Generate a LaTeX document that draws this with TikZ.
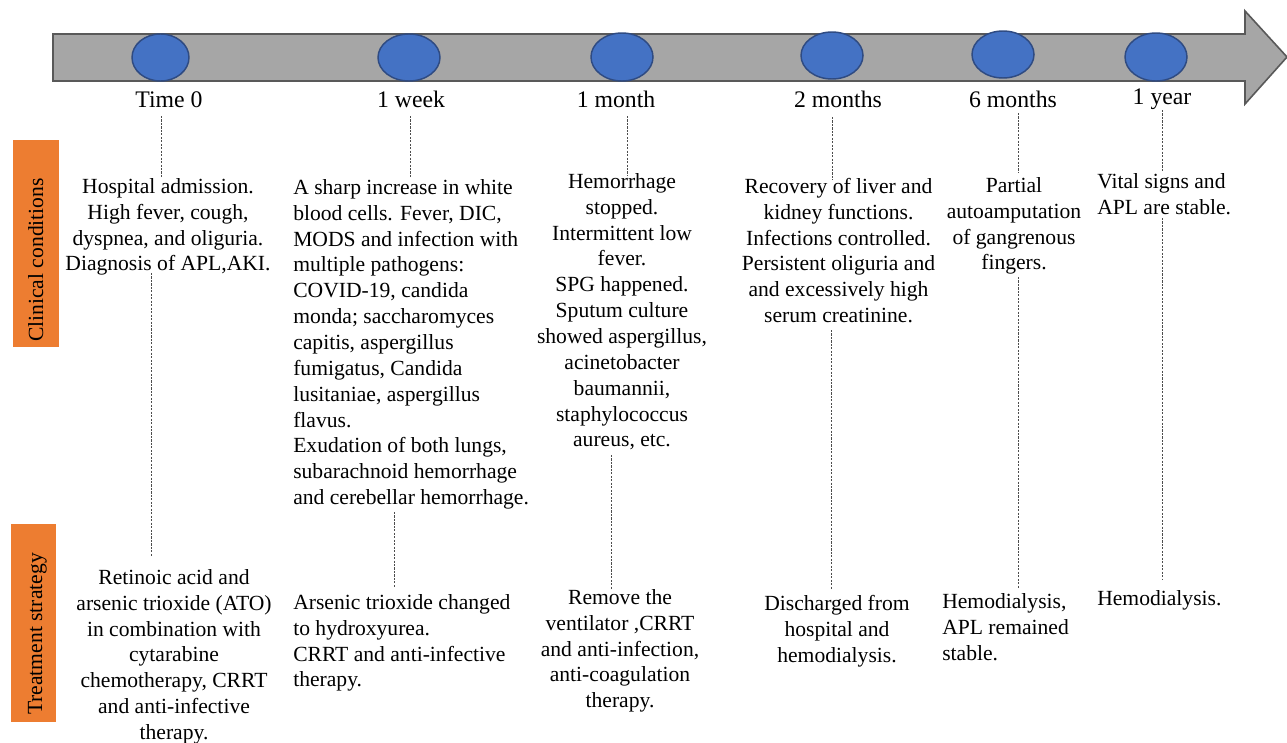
\documentclass[tikz,border=0pt]{standalone}
\usepackage{fontspec}
\usetikzlibrary{shapes.geometric}
\setmainfont{Liberation Serif}
\definecolor{bargray}{HTML}{A6A6A6}
\definecolor{bardraw}{HTML}{595959}
\definecolor{dotblue}{HTML}{4472C4}
\definecolor{dotdraw}{HTML}{2F4B82}
\definecolor{sideorange}{HTML}{ED7D31}
\definecolor{dotline}{HTML}{4D4D4D}
\newcommand{\bodyfs}{\fontsize{16.2}{19.4}\selectfont}
\newcommand{\lblfs}{\fontsize{17.8}{21}\selectfont}
\begin{document}
\begin{tikzpicture}[x=0.75pt,y=-0.75pt,
  mark dot/.style={ellipse, draw=dotdraw, fill=dotblue, line width=1.1pt, inner sep=0pt},
  timelbl/.style={font=\lblfs, anchor=base, inner sep=0pt},
  ctext/.style={font=\bodyfs, align=center, anchor=north, inner sep=0pt},
  ltext/.style={font=\bodyfs, align=left, anchor=north west, inner sep=0pt},
  sidebox/.style={fill=sideorange, draw=none, inner sep=0pt},
  sidetext/.style={font=\bodyfs, rotate=90, anchor=base, inner sep=0pt},
  dotted link/.style={draw=dotline, line width=0.7pt, dash pattern=on 1.6pt off 1pt}
]
\useasboundingbox (0,0) rectangle (1287,742);

% timeline arrow
\path[fill=bargray, draw=bardraw, line width=1.2pt]
  (53,34) -- (1245,34) -- (1245,11) -- (1287,57) -- (1245,104) -- (1245,81) -- (53,81) -- cycle;

% markers (sizes in pt = px*0.75)
\node[mark dot, minimum width=42.75pt, minimum height=35.25pt] (m0) at (160.5,57.5) {};
\node[mark dot, minimum width=46.5pt, minimum height=35.25pt] (m1) at (409,57.5) {};
\node[mark dot, minimum width=46.5pt, minimum height=36pt] (m2) at (622,57) {};
\node[mark dot, minimum width=46.5pt, minimum height=35.25pt] (m3) at (832,55.5) {};
\node[mark dot, minimum width=46.5pt, minimum height=35.25pt] (m4) at (1003,54.5) {};
\node[mark dot, minimum width=46.5pt, minimum height=36pt] (m5) at (1156,57) {};

% time labels
\node[timelbl] (l0) at (169,108) {Time 0};
\node[timelbl] (l1) at (411,108) {1 week};
\node[timelbl] (l2) at (616,107) {1 month};
\node[timelbl] (l3) at (838,108) {2 months};
\node[timelbl] (l4) at (1013,107) {6 months};
\node[timelbl] (l5) at (1162,104) {1 year};

% side labels
\node[sidebox, minimum width=34.5pt, minimum height=155.25pt] (sc) at (36,243.5) {};
\node[sidetext] (sct) at (43,260) {Clinical conditions};
\node[sidebox, minimum width=33.75pt, minimum height=148.5pt] (st) at (33.5,623) {};
\node[sidetext] (stt) at (42,634) {Treatment strategy};

% dotted connectors
\coordinate (u0a) at (161,116); \coordinate (u0b) at (161,178);
\coordinate (d0a) at (151,273); \coordinate (d0b) at (151,557);
\coordinate (u1a) at (410,116); \coordinate (u1b) at (410,177);
\coordinate (d1a) at (394,512); \coordinate (d1b) at (394,588);
\coordinate (u2a) at (627,116); \coordinate (u2b) at (627,175);
\coordinate (d2a) at (611,455); \coordinate (d2b) at (611,590);
\coordinate (u3a) at (832,117); \coordinate (u3b) at (832,180);
\coordinate (d3a) at (831,330); \coordinate (d3b) at (831,590);
\coordinate (u4a) at (1018,113); \coordinate (u4b) at (1018,172);
\coordinate (d4a) at (1018,277); \coordinate (d4b) at (1018,588);
\coordinate (u5a) at (1162,110); \coordinate (u5b) at (1162,172);
\coordinate (d5a) at (1162,218); \coordinate (d5b) at (1162,580);
\foreach \i in {0,...,5} {
  \draw[dotted link] (u\i a) -- (u\i b);
  \draw[dotted link] (d\i a) -- (d\i b);
}

% clinical conditions
\node[ctext] (c0) at (168,174.9) {\strut Hospital admission.\\High fever, cough,\\dyspnea, and oliguria.\\Diagnosis of APL,AKI.};
\node[ltext] (c1) at (293,175.9) {\strut A sharp increase in white\\blood cells. Fever, DIC,\\MODS and infection with\\multiple pathogens:\\COVID-19, candida\\monda; saccharomyces\\capitis, aspergillus\\fumigatus, Candida\\lusitaniae, aspergillus\\flavus.\\Exudation of both lungs,\\subarachnoid hemorrhage\\and cerebellar hemorrhage.};
\node[ctext] (c2) at (622,169.9) {\strut Hemorrhage\\stopped.\\Intermittent low\\fever.\\SPG happened.\\Sputum culture\\showed aspergillus,\\acinetobacter\\baumannii,\\staphylococcus\\aureus, etc.};
\node[ctext] (c3) at (838.5,174.9) {\strut Recovery of liver and\\kidney functions.\\Infections controlled.\\Persistent oliguria and\\and excessively high\\serum creatinine.};
\node[ctext] (c4) at (1014,173.9) {\strut Partial\\autoamputation\\of gangrenous\\fingers.};
\node[ltext] (c5) at (1097,169.9) {\strut Vital signs and\\APL are stable.};

% treatment strategy
\node[ctext] (t0) at (174,565.9) {\strut Retinoic acid and\\arsenic trioxide (ATO)\\in combination with\\cytarabine\\chemotherapy, CRRT\\and anti-infective\\therapy.};
\node[ltext] (t1) at (293,590.9) {\strut Arsenic trioxide changed\\to hydroxyurea.\\CRRT and anti-infective\\therapy.};
\node[ctext] (t2) at (620,585.9) {\strut Remove the\\ventilator ,CRRT\\and anti-infection,\\anti-coagulation\\therapy.};
\node[ctext] (t3) at (837,591.9) {\strut Discharged from\\hospital and\\hemodialysis.};
\node[ltext] (t4) at (942,589.9) {\strut Hemodialysis,\\APL remained\\stable.};
\node[ltext] (t5) at (1097,586.9) {\strut Hemodialysis.};
\end{tikzpicture}
\end{document}
